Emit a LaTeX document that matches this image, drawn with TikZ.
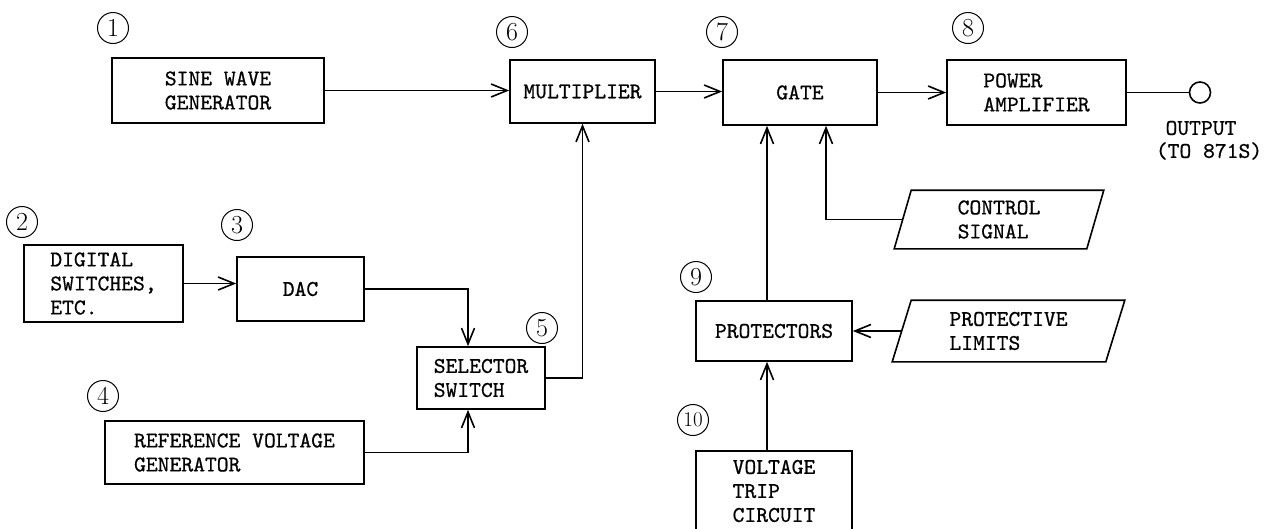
\documentclass[tikz,border=0pt]{standalone}
\usepackage{fontspec}
\usetikzlibrary{arrows.meta,calc}
\newfontfamily\typew{lmmono10-regular}[Extension=.otf, FakeBold=0.7]
\newcommand{\bxfont}{\typew\fontsize{22.5}{24}\selectfont}
\begin{document}
\begin{tikzpicture}[x=1pt,y=-1pt,
  line width=1.6pt,
  box/.style={draw, line width=1.6pt, inner sep=0pt, font=\bxfont, align=center},
  lbox/.style={box, align=left},
  pg/.style={inner sep=0pt, font=\bxfont, align=left},
  numc/.style={circle, draw, line width=1pt, minimum size=31pt, inner sep=0pt, font=\fontsize{26}{26}\selectfont},
  arr/.style={-{Straight Barb[length=16pt,width=13pt]}},
  lbl/.style={font=\bxfont, inner sep=0pt}
]
\fill[white] (0,0) rectangle (1265,528);
\useasboundingbox (0,0) rectangle (1265,528);

% row 1
\node[box, minimum width=212pt, minimum height=65pt] (sine) at (218,90.5) {SINE WAVE\\GENERATOR};
\node[box, minimum width=145pt, minimum height=63pt] (mult) at (582.5,91.5) {MULTIPLIER};
\node[box, minimum width=154pt, minimum height=65pt] (gate) at (800,92.5) {GATE};
\node[lbox, minimum width=179pt, minimum height=65pt] (pa) at (1036.5,92.5) {POWER\\AMPLIFIER};
\node[draw, circle, line width=1.6pt, minimum size=21pt, inner sep=0pt] (out) at (1200,92.5) {};
\node[lbl] (outl) at (1201,128) {OUTPUT};
\node[lbl] (outl2) at (1209,151) {(TO 871S)};

% left part
\node[lbox, minimum width=159pt, minimum height=77pt] (dig) at (103.5,283.5) {DIGITAL\\SWITCHES,\\ETC.};
\node[box, minimum width=127pt, minimum height=64pt] (dac) at (300.5,289) {DAC};
\node[lbox, minimum width=128pt, minimum height=62pt] (sel) at (481,378) {SELECTOR\\SWITCH};
\node[lbox, minimum width=259pt, minimum height=63pt] (ref) at (234.5,452.5) {REFERENCE VOLTAGE\\GENERATOR};

% right part
\node[box, minimum width=156pt, minimum height=60pt] (prot) at (774,331) {PROTECTORS};
\node[lbox, minimum width=156pt, minimum height=80pt] (vt) at (774,491) {VOLTAGE\\TRIP\\CIRCUIT};

\node[pg, minimum width=208pt, minimum height=57pt] (ctl) at (999,219.5) {CONTROL\\SIGNAL};
\draw ($(ctl.north west)+(17,0)$) -- (ctl.north east) -- ($(ctl.south east)+(-17,0)$) -- (ctl.south west) -- cycle;
\node[pg, minimum width=231pt, minimum height=60pt] (lim) at (1008.5,331) {PROTECTIVE\\LIMITS};
\draw ($(lim.north west)+(19,0)$) -- (lim.north east) -- ($(lim.south east)+(-19,0)$) -- (lim.south west) -- cycle;
\coordinate (ctlL) at ($(ctl.west)+(8.5,0)$);
\coordinate (limL) at ($(lim.west)+(9.5,0)$);

% connectors
\draw[arr] (sine.east) -- (sine.east -| mult.west);
\draw[arr] (mult.east) -- (mult.east -| gate.west);
\draw[arr] (gate.east) -- (gate.east -| pa.west);
\draw (pa.east) -- (out.west);
\draw[arr] (dig.east) -- (dig.east -| dac.west);
\draw[arr] (dac.east) -| ($(sel.north)+(-13,0)$);
\draw[arr] (ref.east) -| ($(sel.south)+(-13,0)$);
\draw[arr] (sel.east) -| (mult.south);
\draw[arr] ($(prot.north)+(-7,0)$) -- ($(gate.south)+(-33,0)$);
\draw[arr] ($(vt.north)+(-7,0)$) -- ($(prot.south)+(-7,0)$);
\draw[arr] (limL) -- (limL -| prot.east);
\draw[arr] (ctlL) -| ($(gate.south)+(26,0)$);

% circled numbers
\node[numc] (n1) at (113,28) {1};
\node[numc] (n2) at (22,222) {2};
\node[numc] (n3) at (237,225) {3};
\node[numc] (n4) at (103,396) {4};
\node[numc] (n5) at (542,328) {5};
\node[numc] (n6) at (512,32) {6};
\node[numc] (n7) at (722,32) {7};
\node[numc] (n8) at (968,28) {8};
\node[numc] (n9) at (696,277) {9};
\node[numc, font=\fontsize{21}{21}\selectfont] (n10) at (693,420) {10};
\end{tikzpicture}
\end{document}
